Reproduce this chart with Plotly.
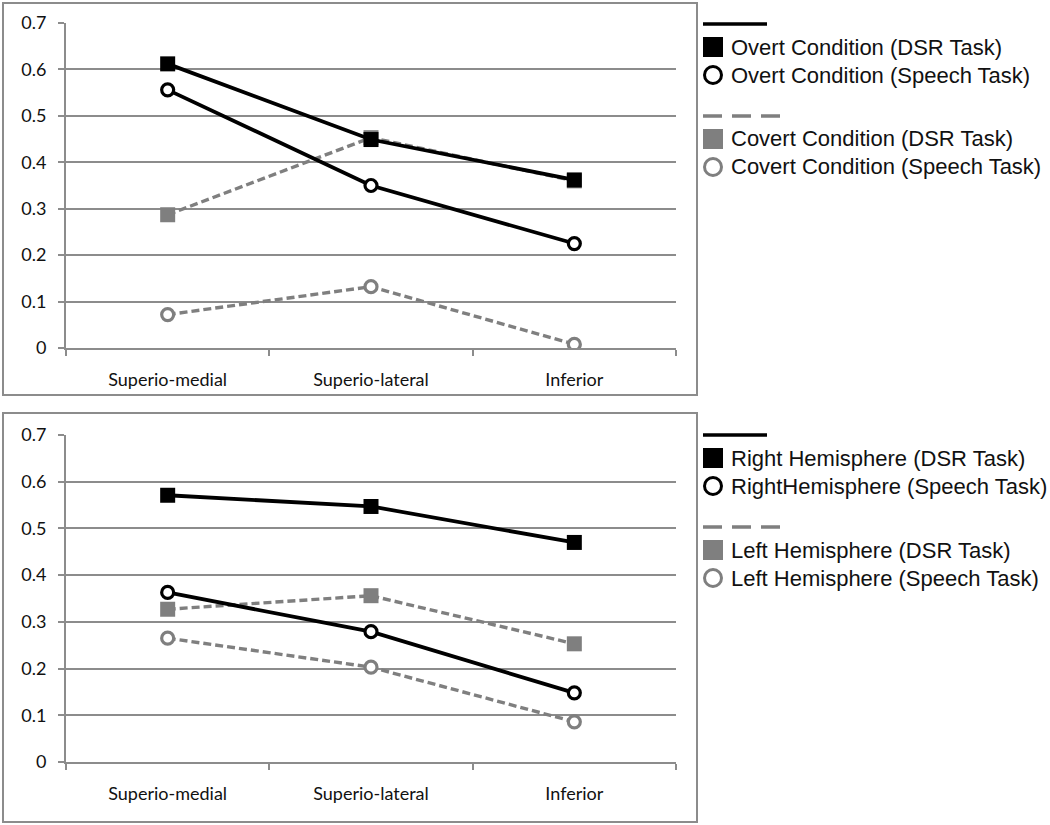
"""
Two stacked line charts: overt/covert condition (top) and right/left hemisphere (bottom),
values per region for the DSR task and the speech task.
"""
import plotly.graph_objects as go

REGIONS = ["Superio-medial", "Superio-lateral", "Inferior"]

# top panel
overt_dsr = [0.612, 0.449, 0.362]
overt_speech = [0.556, 0.350, 0.225]
covert_dsr = [0.287, 0.453, 0.360]
covert_speech = [0.072, 0.132, 0.008]

# bottom panel
right_dsr = [0.571, 0.547, 0.470]
right_speech = [0.363, 0.279, 0.148]
left_dsr = [0.327, 0.356, 0.253]
left_speech = [0.265, 0.203, 0.086]

TOP_NAMES = ["Overt Condition (DSR Task)", "Overt Condition (Speech Task)",
             "Covert Condition (DSR Task)", "Covert Condition (Speech Task)"]
BOTTOM_NAMES = ["Right Hemisphere (DSR Task)", "RightHemisphere (Speech Task)",
                "Left Hemisphere (DSR Task)", "Left Hemisphere (Speech Task)"]

BLACK = "#000000"
GRAY = "#7f7f7f"
AXIS_GRAY = "#8c8c8c"
W, H = 1050, 825


def px_x(v):
    return v / W


def px_y(v):
    return 1 - v / H


def series(y, xa, ya, color, dashed, square):
    return go.Scatter(
        x=REGIONS, y=y, xaxis=xa, yaxis=ya, mode="lines+markers",
        line=dict(color=color, width=3.4 if dashed else 3.8,
                  dash="8px,4px" if dashed else "solid"),
        marker=dict(symbol="square" if square else "circle",
                    size=15 if square else 12,
                    color=color if square else "white",
                    line=dict(color=color, width=0 if square else 3.2)),
        showlegend=False, hoverinfo="x+y",
    )


def legend_block(names, top):
    """Excel-style legend: a line sample row, then a square row and a circle row, per group."""
    shapes, notes = [], []
    rows = [(0, BLACK, "solid", 767, names[0], names[1]),
            (92, GRAY, "19px,10px", 780, names[2], names[3])]
    for dy, color, dash, x_end, n_dsr, n_speech in rows:
        y_line = top + dy
        y_sq = y_line + 23
        y_ci = y_line + 51
        shapes.append(dict(type="line", xref="paper", yref="paper",
                           x0=px_x(703), x1=px_x(x_end), y0=px_y(y_line), y1=px_y(y_line),
                           line=dict(color=color, width=3.5, dash=dash)))
        shapes.append(dict(type="rect", xref="paper", yref="paper",
                           x0=px_x(703), x1=px_x(723), y0=px_y(y_sq + 10), y1=px_y(y_sq - 10),
                           fillcolor=color, line=dict(width=0)))
        shapes.append(dict(type="circle", xref="paper", yref="paper",
                           x0=px_x(704.5), x1=px_x(721.5), y0=px_y(y_ci + 8.5), y1=px_y(y_ci - 8.5),
                           fillcolor="white", line=dict(color=color, width=3)))
        for txt, yy in ((n_dsr, y_sq), (n_speech, y_ci)):
            notes.append(dict(text=txt, xref="paper", yref="paper", x=px_x(729), y=px_y(yy),
                              xanchor="left", yanchor="middle", showarrow=False,
                              font=dict(family="Liberation Sans", size=22, color="#111111")))
    return shapes, notes


fig = go.Figure()

# gray (dashed) series first so the black ones sit on top
fig.add_trace(series(covert_dsr, "x", "y", GRAY, True, True))
fig.add_trace(series(covert_speech, "x", "y", GRAY, True, False))
fig.add_trace(series(overt_dsr, "x", "y", BLACK, False, True))
fig.add_trace(series(overt_speech, "x", "y", BLACK, False, False))

fig.add_trace(series(left_dsr, "x2", "y2", GRAY, True, True))
fig.add_trace(series(left_speech, "x2", "y2", GRAY, True, False))
fig.add_trace(series(right_dsr, "x2", "y2", BLACK, False, True))
fig.add_trace(series(right_speech, "x2", "y2", BLACK, False, False))

xaxis_common = dict(
    type="category", categoryorder="array", categoryarray=REGIONS,
    range=[-0.5, 2.5], showline=True, linecolor=AXIS_GRAY, linewidth=2,
    ticks="outside", tickson="boundaries", ticklen=6, tickcolor=AXIS_GRAY, tickwidth=2,
    showgrid=False, tickfont=dict(family="Lato", size=18, color="#111111"),
    ticklabelstandoff=14, fixedrange=True, automargin=False,
)
yaxis_common = dict(
    range=[0, 0.7], dtick=0.1, showline=True, linecolor=AXIS_GRAY,
    linewidth=2, ticks="outside", ticklen=6, tickcolor=AXIS_GRAY, tickwidth=2,
    showgrid=True, gridcolor=AXIS_GRAY, gridwidth=2, zeroline=False,
    tickfont=dict(family="Lato", size=18, color="#111111"), ticklabelstandoff=8,
    fixedrange=True, automargin=False,
)

top_shapes, top_notes = legend_block(TOP_NAMES, 24)
bot_shapes, bot_notes = legend_block(BOTTOM_NAMES, 435)

frames = [
    dict(type="rect", xref="paper", yref="paper",
         x0=px_x(3), x1=px_x(697), y0=px_y(395), y1=px_y(3),
         line=dict(color=AXIS_GRAY, width=2)),
    dict(type="rect", xref="paper", yref="paper",
         x0=px_x(3), x1=px_x(697), y0=px_y(822), y1=px_y(413),
         line=dict(color=AXIS_GRAY, width=2)),
]

fig.update_layout(
    width=W, height=H,
    margin=dict(l=0, r=0, t=0, b=0),
    paper_bgcolor="white", plot_bgcolor="white",
    showlegend=False,
    xaxis=dict(xaxis_common, domain=[px_x(66), px_x(676)], anchor="y"),
    yaxis=dict(yaxis_common, domain=[px_y(348), px_y(23)], anchor="x"),
    xaxis2=dict(xaxis_common, domain=[px_x(66), px_x(676)], anchor="y2"),
    yaxis2=dict(yaxis_common, domain=[px_y(762), px_y(435)], anchor="x2"),
    shapes=frames + top_shapes + bot_shapes,
    annotations=top_notes + bot_notes,
)

# drop the browser's default body margin so the figure sits at the page corner
fig.write_html("out.html", config={"displayModeBar": False},
               post_script="document.body.style.margin='0';")
